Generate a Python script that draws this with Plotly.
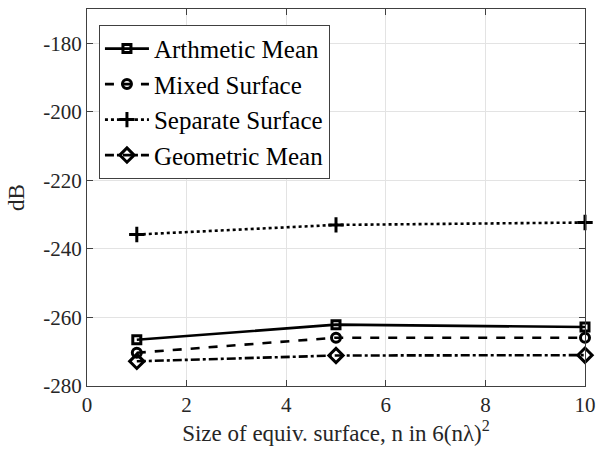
import plotly.graph_objects as go

# Surface size n, for the equivalent surface 6(n*lambda)^2
n_values = [1, 5, 10]

arithmetic_mean = [-266.5, -262.1, -262.8]
mixed_surface = [-270.3, -265.9, -265.9]
separate_surface = [-235.8, -233.0, -232.3]
geometric_mean = [-272.8, -271.1, -271.0]

x_ticks = [0, 2, 4, 6, 8, 10]
y_ticks = [-280, -260, -240, -220, -200, -180]
y_tick_text = ["-280", "-260", "-240", "-220", "-200", "-180"]

FONT = "Liberation Serif"
TEXT_COLOR = "#262626"

series = [
    ("Arthmetic Mean", arithmetic_mean, "solid", "square-open", 8),
    ("Mixed Surface", mixed_surface, "dash", "circle-open", 9),
    ("Separate Surface", separate_surface, "dot", "cross-thin-open", 11),
    ("Geometric Mean", geometric_mean, "dashdot", "diamond-open", 11),
]

fig = go.Figure()
for name, vals, dash, symbol, size in series:
    fig.add_trace(go.Scatter(
        x=n_values, y=vals, name=name, mode="lines+markers",
        line=dict(color="black", width=2.6, dash=dash),
        marker=dict(symbol=symbol, size=size, color="black",
                    line=dict(color="black", width=3)),
        cliponaxis=False,
    ))

axis_common = dict(
    showgrid=True, gridcolor="#e3e3e3", gridwidth=1,
    showline=True, linecolor="#404040", linewidth=1, mirror="ticks",
    ticks="inside", ticklen=6, tickcolor="#404040",
    tickfont=dict(family=FONT, size=21, color=TEXT_COLOR),
    zeroline=False,
)

fig.update_xaxes(range=[0, 10], tickvals=x_ticks,
                 title=dict(text="Size of equiv. surface, n in 6(nλ)<sup>2</sup>",
                            font=dict(family=FONT, size=23, color=TEXT_COLOR),
                            standoff=4),
                 **axis_common)
fig.update_yaxes(range=[-280, -170], tickvals=y_ticks, ticktext=y_tick_text,
                 title=dict(text="dB", font=dict(family=FONT, size=23, color=TEXT_COLOR),
                            standoff=12),
                 **axis_common)

fig.update_layout(
    width=604, height=458,
    margin=dict(l=87, r=19, t=9, b=72),
    paper_bgcolor="white", plot_bgcolor="white",
    font=dict(family=FONT, size=21, color=TEXT_COLOR),
    showlegend=True,
    legend=dict(
        x=0.024, y=0.958, xanchor="left", yanchor="top",
        bgcolor="white", bordercolor="#404040", borderwidth=1,
        font=dict(family=FONT, size=25, color="black"),
        tracegroupgap=0, itemwidth=44,
    ),
)

fig.write_html("out.html")
